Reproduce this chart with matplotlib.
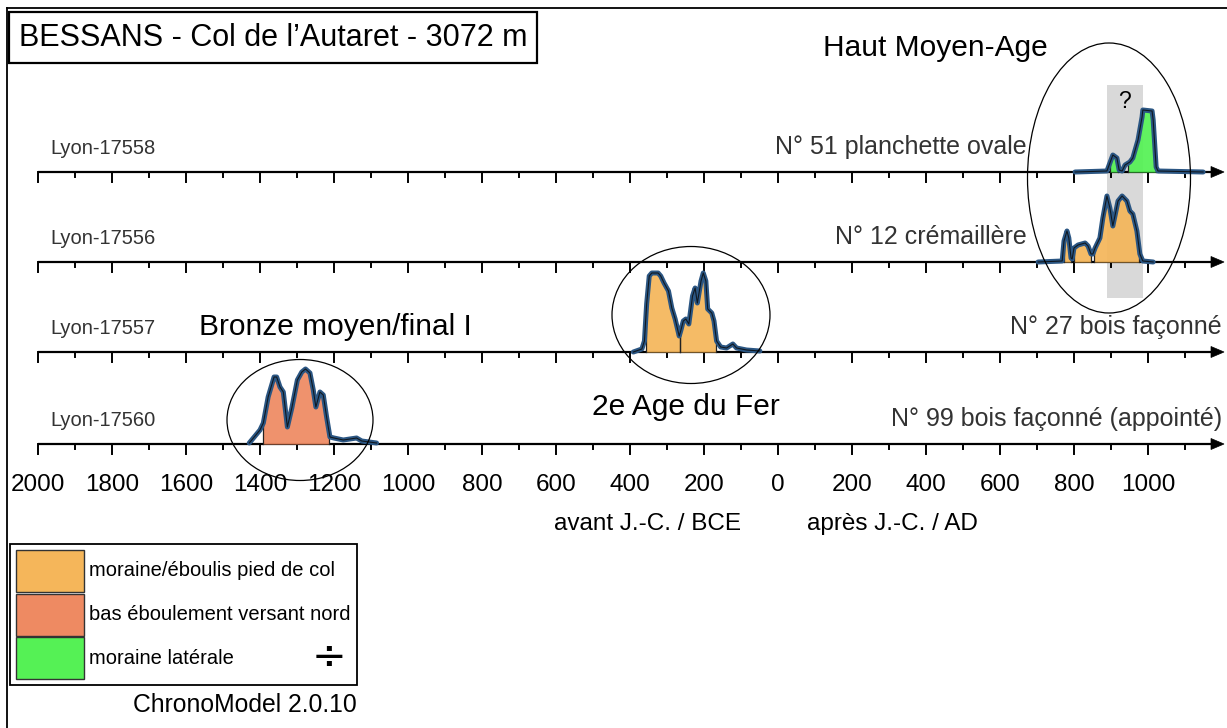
import matplotlib
matplotlib.use('Agg')
import matplotlib.pyplot as plt
from matplotlib.patches import Ellipse, Rectangle, Polygon
import numpy as np

plt.rcParams['font.family'] = ['Liberation Sans', 'DejaVu Sans']

# ---------------- data ----------------
title = "BESSANS - Col de l\u2019Autaret - 3072 m"
lab_codes = ['Lyon-17558', 'Lyon-17556', 'Lyon-17557', 'Lyon-17560']
objects = ['N\u00b0 51 planchette ovale', 'N\u00b0 12 cr\u00e9maill\u00e8re',
           'N\u00b0 27 bois fa\u00e7onn\u00e9', 'N\u00b0 99 bois fa\u00e7onn\u00e9 (appoint\u00e9)']
contexts = ['moraine lat\u00e9rale', 'moraine/\u00e9boulis pied de col',
            'moraine/\u00e9boulis pied de col', 'bas \u00e9boulement versant nord']
legend_labels = ['moraine/\u00e9boulis pied de col', 'bas \u00e9boulement versant nord',
                 'moraine lat\u00e9rale']
periods = ['Haut Moyen-Age', '2e Age du Fer', 'Bronze moyen/final I']

# calibrated densities (year, relative density)
years_17558 = [803, 889, 897, 905, 916, 922, 930, 938, 951, 959, 973, 984, 986, 1011, 1014, 1022, 1027, 1149]
dens_17558 = [0, 1, 9, 17, 14, 2, 1, 7, 10, 14, 32, 55, 62, 61, 52, 5, 1, 0]
hpd_17558 = [(897, 919), (946, 1022)]

years_17556 = [703, 768, 773, 781, 786, 792, 795, 800, 811, 830, 838, 846, 851, 857, 870, 878,
               889, 897, 905, 919, 930, 943, 951, 959, 970, 978, 986, 1014]
dens_17556 = [0, 1, 21, 31, 24, 4, 3, 14, 17, 19, 16, 8, 8, 14, 24, 44,
              66, 54, 36, 61, 66, 61, 51, 48, 31, 8, 1, 0]
hpd_17556 = [(773, 792), (800, 846), (854, 976)]

years_17557 = [-391, -368, -361, -355, -348, -341, -324, -317, -308, -296, -287, -278, -267, -263,
               -256, -249, -241, -231, -224, -218, -208, -202, -195, -190, -179, -173, -166, -155,
               -139, -122, -112, -85, -49]
dens_17557 = [0, 3, 11, 48, 76, 79, 79, 76, 69, 61, 44, 33, 16, 21,
              31, 33, 28, 56, 64, 49, 71, 79, 71, 43, 39, 31, 11, 5,
              4, 8, 4, 2, 1]
hpd_17557 = [(-358, -265), (-265, -168)]

years_17560 = [-1429, -1400, -1391, -1378, -1362, -1355, -1346, -1337, -1326, -1314, -1299, -1287,
               -1277, -1265, -1256, -1249, -1238, -1229, -1220, -1211, -1200, -1175, -1139, -1125, -1085]
dens_17560 = [1, 14, 21, 47, 67, 67, 57, 52, 17, 36, 64, 72,
              75, 71, 54, 37, 52, 49, 27, 7, 6, 4, 6, 3, 1]
hpd_17560 = [(-1391, -1214)]

question_span = (889, 986)

tick_years = list(range(-2000, 1101, 100))
label_years = list(range(-2000, 1001, 200))
software = 'ChronoModel 2.0.10'
era_labels = ['avant J.-C. / BCE', 'apr\u00e8s J.-C. / AD']

# ---------------- style ----------------
W, H = 1227, 728
X0, PX_PER_YEAR = 778.0, 0.37     # pixel of year 0, scale
colors = {'moraine/\u00e9boulis pied de col': '#F5B65A',
          'bas \u00e9boulement versant nord': '#EE8A62',
          'moraine lat\u00e9rale': '#55F155'}
line_blue = '#2B5683'
txt_grey = '#333333'
bases = [172, 262, 352, 444]

fig = plt.figure(figsize=(W / 100, H / 100), dpi=100)
ax = fig.add_axes([0, 0, 1, 1])
ax.set_xlim(-X0 / PX_PER_YEAR, (W - X0) / PX_PER_YEAR)
ax.set_ylim(H, 0)
ax.axis('off')

lay = fig.add_axes([0, 0, 1, 1], facecolor='none')
lay.set_xlim(0, W)
lay.set_ylim(H, 0)
lay.axis('off')

def yr(px):
    return (px - X0) / PX_PER_YEAR

# grey "?" band
ax.add_patch(Rectangle((question_span[0], 85), question_span[1] - question_span[0], 213,
                       fc='#D9D9D9', ec='none', zorder=1))
ax.text((question_span[0] + question_span[1]) / 2, 101, '?', ha='center', va='center',
        fontsize=16.5, color='black', zorder=6)

series = [(years_17558, dens_17558, hpd_17558),
          (years_17556, dens_17556, hpd_17556),
          (years_17557, dens_17557, hpd_17557),
          (years_17560, dens_17560, hpd_17560)]

for i, (yrs, dens, hpd) in enumerate(series):
    b = bases[i]
    # axis line
    ax.plot([-2000, yr(1214)], [b, b], color='black', lw=1.6, zorder=3, solid_capstyle='butt')
    ax.add_patch(Polygon([(yr(1211), b - 5.5), (yr(1211), b + 5.5), (yr(1224), b)],
                         closed=True, fc='black', ec='black', lw=0.5, zorder=3))
    for t in tick_years:
        ln = 10 if t % 200 == 0 else 5
        ax.plot([t, t], [b, b + ln], color='black', lw=1.4, zorder=3)
    # fills
    c = colors[contexts[i]]
    yrs_a = np.array(yrs, float)
    dens_a = np.array(dens, float)
    for (a, e) in hpd:
        xs = np.linspace(a, e, 200)
        ys = np.interp(xs, yrs_a, dens_a)
        ax.fill_between(xs, b, b - ys, color=c, lw=0, zorder=4, alpha=0.93)
        for xe in (a, e):
            ax.plot([xe, xe], [b, b - np.interp(xe, yrs_a, dens_a)], color='#222222',
                    lw=0.9, zorder=4.5)
    # curve
    ax.plot(yrs_a, b - dens_a, color=line_blue, lw=3.6, zorder=5,
            solid_joinstyle='round', solid_capstyle='round')
    ax.plot(yrs_a, b - dens_a, color='#101820', lw=0.8, zorder=5.5)
    # labels
    ax.text(yr(50), b - 23, lab_codes[i], ha='left', va='center', fontsize=14.5, color=txt_grey)
    rx = 1027 if i < 2 else 1222
    ax.text(yr(rx), b - 25, objects[i], ha='right', va='center', fontsize=18, color=txt_grey)

# period ellipses
ax.add_patch(Ellipse((yr(1109), 178), 163 / PX_PER_YEAR, 270, fill=False, ec='black', lw=0.9, zorder=7))
ax.add_patch(Ellipse((yr(691), 315), 158 / PX_PER_YEAR, 137, fill=False, ec='black', lw=0.9, zorder=7))
ax.add_patch(Ellipse((yr(300), 420), 146 / PX_PER_YEAR, 121, fill=False, ec='black', lw=0.9, zorder=7))

lay.text(935, 48, periods[0], ha='center', va='center', fontsize=21.5, color='black')
lay.text(686, 407, periods[1], ha='center', va='center', fontsize=21.5, color='black')
lay.text(335, 327, periods[2], ha='center', va='center', fontsize=21.5, color='black')

# tick labels
for t in label_years:
    ax.text(t, 485, str(abs(t)), ha='center', va='center', fontsize=17.5, color='black')
lay.text(647, 524, era_labels[0], ha='center', va='center', fontsize=17.5)
lay.text(892, 524, era_labels[1], ha='center', va='center', fontsize=17.5)

# frame & title
lay.plot([7, 7], [8, H], color='black', lw=1.3)
lay.plot([7, W], [8, 8], color='black', lw=1.3)
lay.add_patch(Rectangle((9, 12), 528, 51, fc='white', ec='black', lw=1.6, zorder=8))
lay.text(273, 38, title, ha='center', va='center', fontsize=22, zorder=9)

# legend
lay.add_patch(Rectangle((10, 544), 347, 141, fill=False, ec='black', lw=1.3))
for k, lab in enumerate(legend_labels):
    y0 = 550 + k * 43.5
    lay.add_patch(Rectangle((16, y0), 68, 42, fc=colors[lab], ec='#333333', lw=1.0))
    lay.text(89, y0 + 21, lab, ha='left', va='center', fontsize=14.5)
lay.text(329, 657, '\u00f7', ha='center', va='center', fontsize=30, family='DejaVu Sans')
lay.text(357, 705, software, ha='right', va='center', fontsize=17.8)

fig.savefig('out.png', dpi=100)
